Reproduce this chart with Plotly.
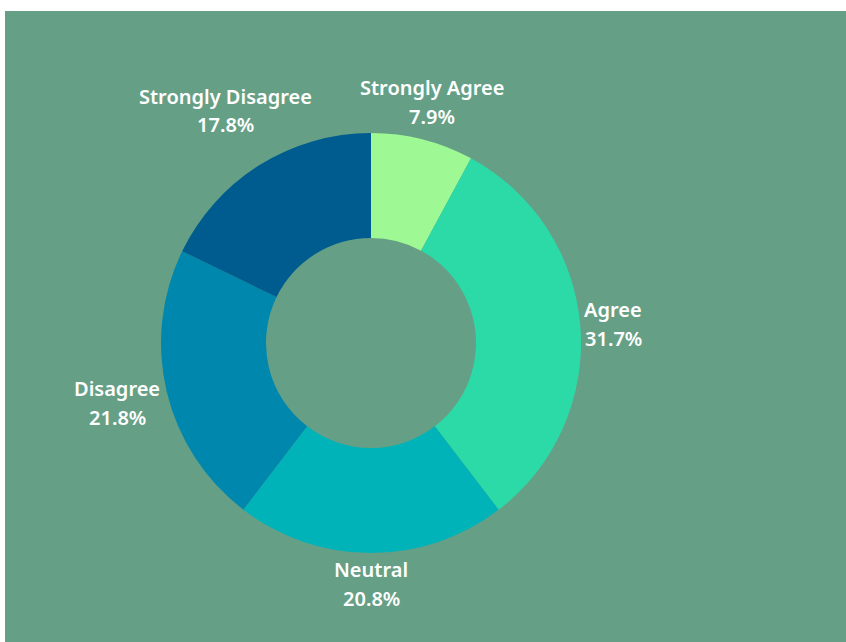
import math
import plotly.graph_objects as go

labels = ["Strongly Agree", "Agree", "Neutral", "Disagree", "Strongly Disagree"]
values = [7.9, 31.7, 20.8, 21.8, 17.8]
colors = ["#9EF994", "#2CDAA8", "#00B3B8", "#0087AD", "#005B8F"]

W, H = 846, 642
bg = "#65A086"
cx, cy, R = 371, 343, 210      # pie centre / radius in pixels
R_LAB = 216                    # nearest label-box distance from centre
LINE_GAP = 28.5                # baseline distance between the two text lines
FONT = dict(family="Noto Sans", size=20, color="white", weight=600)

fig = go.Figure(go.Pie(
    labels=labels, values=values, sort=False, direction="clockwise", rotation=0,
    hole=0.5,
    marker=dict(colors=colors, line=dict(width=0)),
    textinfo="none", hoverinfo="label+percent",
    domain=dict(x=[(cx - R) / W, (cx + R) / W], y=[1 - (cy + R) / H, 1 - (cy - R) / H]),
    showlegend=False,
))

# labels centred on each slice's mid-angle, just outside the ring
total = sum(values)
cum = 0.0
annotations = []
for lab, v in zip(labels, values):
    mid = (cum + v / 2) / total * 2 * math.pi
    cum += v
    ux, uy = math.sin(mid), -math.cos(mid)
    pct = f"{v / total * 100:.1f}%"
    hw = max(len(lab) * 10.1, len(pct) * 10.5) / 2
    hh = 25
    lo, hi = 0.0, 600.0
    for _ in range(60):
        t = (lo + hi) / 2
        dx = max(0.0, abs(t * ux) - hw)
        dy = max(0.0, abs(t * uy) - hh)
        if math.hypot(dx, dy) < R_LAB:
            lo = t
        else:
            hi = t
    px, py = cx + t * ux, cy + t * uy
    for txt, off in ((lab, -LINE_GAP / 2), (pct, LINE_GAP / 2)):
        annotations.append(dict(
            text=txt, xref="paper", yref="paper",
            x=px / W, y=1 - (py + off) / H,
            xanchor="center", yanchor="middle", showarrow=False, font=FONT,
        ))

fig.update_layout(
    width=W, height=H,
    margin=dict(l=0, r=0, t=0, b=0),
    paper_bgcolor="white",
    annotations=annotations,
    shapes=[dict(type="rect", xref="paper", yref="paper",
                 x0=5 / W, x1=1, y0=0, y1=1 - 11 / H,
                 fillcolor=bg, line=dict(width=0), layer="below")],
)

fig.write_html("out.html", config={"displayModeBar": False},
               post_script="document.body.style.margin='0';")
